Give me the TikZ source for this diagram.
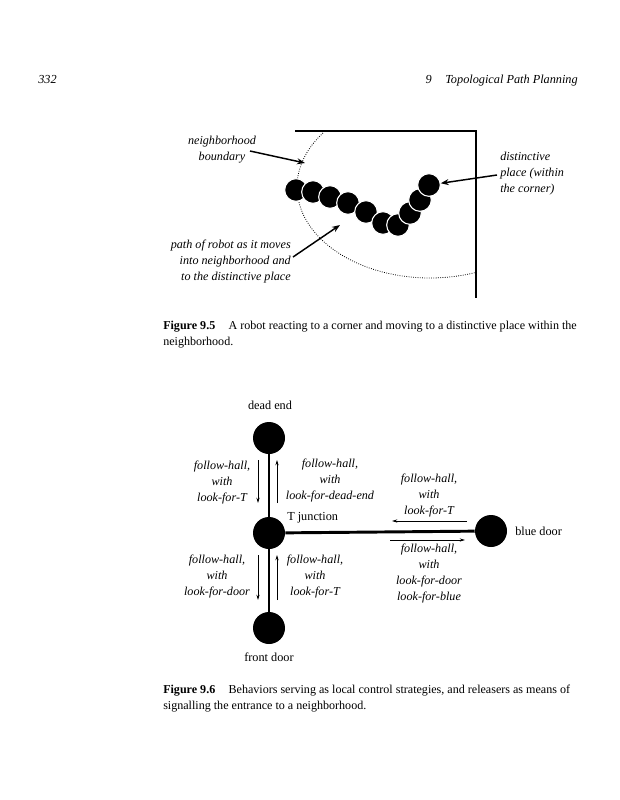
\documentclass[tikz,border=0pt]{standalone}
\usepackage{fontspec}
\setmainfont{Liberation Serif}
\usetikzlibrary{arrows.meta}
\begin{document}
\begin{tikzpicture}[x=0.75pt,y=-0.75pt,
  lbl/.style={font=\fontsize{9.1}{12}\selectfont\itshape, align=center, inner sep=0pt},
  plain/.style={font=\fontsize{9.2}{12}\selectfont, inner sep=0pt},
  captxt/.style={font=\fontsize{9.05}{12}\selectfont, inner sep=0pt, anchor=base west},
  hdr/.style={font=\fontsize{9.2}{12}\selectfont\itshape, inner sep=0pt},
  place/.style={circle, fill=black, minimum size=24pt, inner sep=0pt},
  robot/.style={circle, fill=black, draw=white, line width=0.8pt, minimum size=17pt, inner sep=0pt},
  bigarrow/.style={-{Stealth[length=6pt,width=4.5pt]}, line width=1.1pt},
  smallarrow/.style={-{Stealth[length=4pt,width=2.4pt]}, line width=0.6pt},
  wall/.style={line width=1.5pt},
  hall/.style={line width=2.2pt},
  ]
\useasboundingbox[fill=white] (0,0) rectangle (620,800);

% header
\node[hdr, anchor=base west] (pg) at (38,83) {332};
\node[hdr, anchor=base east] (ch) at (578,83) {9\hspace{1.1em}Topological Path Planning};

% ---------- Figure 9.5 ----------
\draw[wall] (295,131) -- (476,131) -- (476,298);
\draw[line width=0.6pt, dash pattern=on 0.6pt off 1.1pt]
  (323,133) arc[start angle=216.4, end angle=70.2, x radius=133, y radius=91];

\foreach \i/\x/\y in {1/296/190, 2/313/192, 3/330/197, 4/348/203, 5/366/212,
                      6/383/223, 7/398/225, 8/410/213, 9/420/200, 10/429/185}
  \node[robot] (r\i) at (\x,\y) {};

\node[lbl] (nb) at (222,150) {neighborhood\\boundary};
\coordinate (nbt) at (250,151);
\coordinate (nbh) at (305,163);
\draw[bigarrow] (nbt) -- (nbh);

\node[lbl, align=left, anchor=west] (dp) at (500,174) {distinctive\\place (within\\the corner)};
\coordinate (dpt) at (497,175);
\draw[bigarrow] (dpt) -- (r10);

\node[lbl, align=right, anchor=east] (pr) at (291,262) {path of robot as it moves\\into neighborhood and\\to the distinctive place};
\coordinate (prt) at (293,257);
\coordinate (prh) at (340,225);
\draw[bigarrow] (prt) -- (prh);

\node[captxt] (c1a) at (163,329) {\textbf{Figure 9.5}\hspace{1.1em}A robot reacting to a corner and moving to a distinctive place within the};
\node[captxt] (c1b) at (163,345) {neighborhood.};

% ---------- Figure 9.6 ----------
\node[place] (de) at (269,438) {};
\node[place] (tj) at (269,533) {};
\node[place] (bd) at (491,531) {};
\node[place] (fd) at (269,628) {};
\draw[hall] (de) -- (tj);
\draw[hall] (tj) -- (fd);
\draw[hall] (tj) -- (bd);

\node[plain] (del) at (270,405) {dead end};
\node[plain, anchor=west] (tjl) at (287,518) {T junction};
\node[plain, anchor=west] (bdl) at (515,531) {blue door};
\node[plain] (fdl) at (269,657) {front door};

\draw[smallarrow] (258,460) -- (258,503);
\draw[smallarrow] (277,503) -- (277,460);
\draw[smallarrow] (258,555) -- (258,600);
\draw[smallarrow] (277,600) -- (277,555);
\draw[smallarrow] (467,521) -- (392,521);
\draw[smallarrow] (390,540) -- (465,540);

\node[lbl] (a1) at (222,483) {follow-hall,\\with\\look-for-T};
\node[lbl] (a2) at (330,481) {follow-hall,\\with\\look-for-dead-end};
\node[lbl] (a3) at (429,496) {follow-hall,\\with\\look-for-T};
\node[lbl] (a4) at (429,574) {follow-hall,\\with\\look-for-door\\look-for-blue};
\node[lbl] (a5) at (217,577) {follow-hall,\\with\\look-for-door};
\node[lbl] (a6) at (315,577) {follow-hall,\\with\\look-for-T};

\node[captxt] (c2a) at (163,693) {\textbf{Figure 9.6}\hspace{1.1em}Behaviors serving as local control strategies, and releasers as means of};
\node[captxt] (c2b) at (163,709) {signalling the entrance to a neighborhood.};
\end{tikzpicture}
\end{document}
